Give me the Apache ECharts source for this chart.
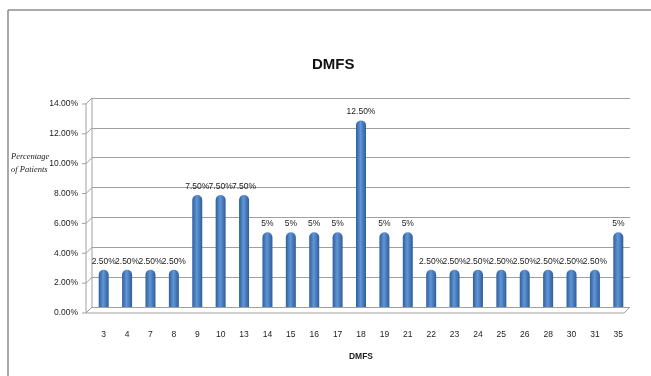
<!DOCTYPE html>
<html>
<head>
<meta charset="utf-8">
<script src="https://cdn.jsdelivr.net/npm/echarts@6/dist/echarts.min.js"></script>
<style>
  html, body { margin: 0; padding: 0; background: #fff; }
  #chart { width: 651px; height: 376px; }
</style>
</head>
<body>
<div id="chart"></div>
<script>
// DMFS (months) and percentage of patients in each group
const categories = ['3','4','7','8','9','10','13','14','15','16','17','18','19','21','22','23','24','25','26','28','30','31','35'];
const percentages = [2.5,2.5,2.5,2.5,7.5,7.5,7.5,5,5,5,5,12.5,5,5,2.5,2.5,2.5,2.5,2.5,2.5,2.5,2.5,5];
const valueLabels = ['2.50%','2.50%','2.50%','2.50%','7.50%','7.50%','7.50%','5%','5%','5%','5%','12.50%','5%','5%','2.50%','2.50%','2.50%','2.50%','2.50%','2.50%','2.50%','2.50%','5%'];
const yTicks = [0, 2, 4, 6, 8, 10, 12, 14];

// depth of the pseudo-3D wall and floor, in pixels
const DEPTH = 6;
const WALL = '#a0a0a0';

const chart = echarts.init(document.getElementById('chart'), null, { renderer: 'canvas' });

const barFill = new echarts.graphic.LinearGradient(0, 0, 1, 0, [
  { offset: 0, color: '#2f5f9c' },
  { offset: 0.45, color: '#6095d6' },
  { offset: 1, color: '#2f5d97' }
]);

// side wall, front axis and floor drawn from the grid and value scale
function renderFrame(params, api) {
  const cs = params.coordSys;
  const left = cs.x, right = cs.x + cs.width;
  const base = api.coord([0, 0])[1];
  const children = [];
  const seg = (x1, y1, x2, y2) => children.push({
    type: 'line',
    shape: { x1, y1, x2, y2 },
    style: { stroke: WALL, lineWidth: 1 }
  });
  yTicks.forEach(v => {
    const y = api.coord([0, v])[1];
    seg(left - DEPTH, y + DEPTH, left, y);                      // side-wall diagonal
    seg(left - DEPTH - 4, y + DEPTH, left - DEPTH, y + DEPTH);  // tick
  });
  const top = api.coord([0, yTicks[yTicks.length - 1]])[1];
  seg(left - DEPTH, top + DEPTH, left - DEPTH, base + DEPTH);   // front axis
  seg(left, top, left, base);                                   // back corner
  seg(left - DEPTH, base + DEPTH, right - DEPTH, base + DEPTH); // floor front edge
  seg(right - DEPTH, base + DEPTH, right, base);                // floor right edge
  return { type: 'group', children };
}

chart.setOption({
  animation: false,
  backgroundColor: '#ffffff',
  title: {
    text: 'DMFS',
    left: 307,
    top: 52,
    textStyle: { fontFamily: 'Liberation Sans', fontSize: 15, fontWeight: 'bold', color: '#111' }
  },
  graphic: [
    { type: 'line', shape: { x1: 8, y1: 10, x2: 651, y2: 10 }, style: { stroke: '#8c8c8c', lineWidth: 1.5 } },
    { type: 'line', shape: { x1: 8, y1: 10, x2: 8, y2: 376 }, style: { stroke: '#8c8c8c', lineWidth: 1.5 } },
    {
      type: 'text', left: 11, top: 150,
      style: {
        text: 'Percentage\nof Patients',
        font: 'italic 8.5px "Liberation Serif", "DejaVu Serif", serif',
        fill: '#222', lineHeight: 13
      }
    }
  ],
  grid: { left: 92, right: 21, top: 98, bottom: 69 },
  xAxis: {
    type: 'category',
    data: categories,
    name: 'DMFS',
    nameLocation: 'middle',
    nameGap: 45,
    nameTextStyle: { fontFamily: 'Liberation Sans', fontSize: 8.5, fontWeight: 'bold', color: '#222' },
    axisLine: { show: false },
    axisTick: { show: false },
    axisLabel: { margin: 23, fontFamily: 'Liberation Sans', fontSize: 8.5, color: '#222' }
  },
  yAxis: {
    type: 'value',
    min: 0, max: 14, interval: 2,
    offset: DEPTH,
    axisLine: { show: false },
    axisTick: { show: false },
    axisLabel: {
      margin: 8, fontFamily: 'Liberation Sans', fontSize: 8.5, color: '#222',
      verticalAlign: 'top',
      lineHeight: 12,
      formatter: v => v.toFixed(2) + '%'
    },
    splitLine: { show: true, lineStyle: { color: WALL, width: 1 } }
  },
  series: [
    {
      type: 'custom',
      silent: true,
      z: 1,
      data: [[0, 0]],
      renderItem: renderFrame
    },
    {
      type: 'bar',
      z: 2,
      data: percentages,
      barWidth: 10,
      itemStyle: { color: barFill, borderRadius: [5, 5, 0, 0] },
      label: {
        show: true,
        position: 'top',
        distance: 4,
        fontFamily: 'Liberation Sans',
        fontSize: 8.5,
        color: '#222',
        formatter: p => valueLabels[p.dataIndex]
      }
    }
  ]
});
</script>
</body>
</html>
